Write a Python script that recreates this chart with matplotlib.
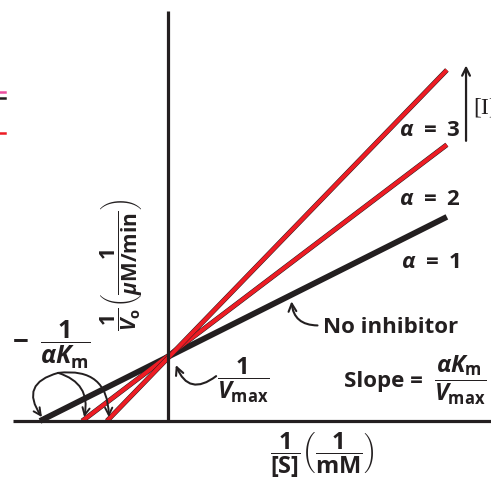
import matplotlib.pyplot as plt
from matplotlib.lines import Line2D

plt.rcParams["font.family"] = ["Open Sans", "DejaVu Sans"]
plt.rcParams["font.weight"] = "bold"
plt.rcParams["mathtext.fontset"] = "custom"
plt.rcParams["mathtext.rm"] = "Open Sans:bold"
plt.rcParams["mathtext.it"] = "Open Sans:italic:bold"
plt.rcParams["mathtext.bf"] = "Open Sans:bold"

# data (1/Vmax = 1 unit)
alphas = [1, 2, 3]
x_intercepts = [-1.97, -1.32, -0.94]   # -1/(alpha Km)
x_end = 4.29
y_end = [3.14, 4.25, 5.40]
line_colors = ["#231f20", "#ed1c24", "#ed1c24"]

BLACK = "#231f20"


def dm01():
    fig = plt.figure(figsize=(4.91, 4.89), dpi=100)
    ax = fig.add_axes([0, 0, 1, 1])
    ax.set_xlim(-2.585, 4.969)
    ax.set_ylim(-1.031, 6.492)

    # axes
    for s in ["top", "right"]:
        ax.spines[s].set_visible(False)
    ax.spines["left"].set_position(("data", 0))
    ax.spines["bottom"].set_position(("data", 0))
    ax.spines["left"].set_bounds(0, 6.31)
    ax.spines["bottom"].set_bounds(-2.385, 4.969)
    for s in ["left", "bottom"]:
        ax.spines[s].set_linewidth(2.3)
        ax.spines[s].set_color(BLACK)
        ax.spines[s].set_capstyle("butt")
    ax.set_xticks([])
    ax.set_yticks([])
    ax.patch.set_visible(False)

    # lines
    for x0, y1, c in zip(x_intercepts, y_end, line_colors):
        if c == BLACK:
            ax.plot([x0, x_end], [0, y1], color=BLACK, lw=4.2, solid_capstyle="butt")
        else:
            ax.plot([x0, x_end], [0, y1], color=BLACK, lw=3.6, solid_capstyle="butt")
            ax.plot([x0, x_end], [0, y1], color=c, lw=2.9, solid_capstyle="butt")

    # alpha labels
    for a, y in zip(alphas, [2.46, 3.43, 4.48]):
        ax.text(4.03, y, r"$\alpha\ =\ %d$" % a, fontsize=16, ha="center", va="center",
                color=BLACK)

    # [I] arrow
    ax.annotate("", xy=(4.585, 5.47), xytext=(4.585, 4.31),
                arrowprops=dict(arrowstyle="->", lw=1.6, color=BLACK,
                                shrinkA=0, shrinkB=0, mutation_scale=14))
    ax.text(4.70, 4.83, "[I]", fontsize=17, ha="left", va="center",
            family="Liberation Serif", fontweight="normal", color=BLACK)

    # No inhibitor
    ax.text(3.42, 1.45, "No inhibitor", fontsize=16, ha="center", va="center", color=BLACK)
    ax.annotate("", xy=(1.90, 1.84), xytext=(2.30, 1.47),
                arrowprops=dict(arrowstyle="->", lw=1.5, color=BLACK,
                                connectionstyle="arc3,rad=-0.45",
                                shrinkA=0, shrinkB=0, mutation_scale=14))

    # 1/Vmax
    ax.text(1.16, 0.64, r"$\dfrac{1}{V_{\mathrm{max}}}$", fontsize=17,
            ha="center", va="center", color=BLACK)
    ax.annotate("", xy=(0.12, 0.86), xytext=(0.74, 0.69),
                arrowprops=dict(arrowstyle="->", lw=1.5, color=BLACK,
                                connectionstyle="arc3,rad=-0.65",
                                shrinkA=0, shrinkB=0, mutation_scale=14))

    # slope
    ax.text(3.32, 0.63, "Slope =", fontsize=16, ha="center", va="center", color=BLACK)
    ax.text(4.50, 0.64, r"$\dfrac{\alpha K_{\mathrm{m}}}{V_{\mathrm{max}}}$", fontsize=17,
            ha="center", va="center", color=BLACK)

    # -1/(alpha Km)
    ax.text(-2.27, 1.24, "\u2212", fontsize=20, ha="center", va="center", color=BLACK)
    ax.text(-1.58, 1.18, r"$\dfrac{1}{\alpha K_{\mathrm{m}}}$", fontsize=18,
            ha="center", va="center", color=BLACK)
    start = (-1.69, 0.74)
    for x0, rad in zip(x_intercepts, [0.7, -0.45, -0.55]):
        ax.annotate("", xy=(x0 + 0.03, 0.06), xytext=start,
                    arrowprops=dict(arrowstyle="->", lw=1.4, color=BLACK,
                                    connectionstyle="arc3,rad=%s" % rad,
                                    shrinkA=0, shrinkB=0, mutation_scale=13))

    # axis labels
    ax.text(-0.71, 2.42, r"$\dfrac{1}{V_{\mathrm{o}}}\left(\dfrac{1}{\mu\mathrm{M/min}}\right)$",
            fontsize=15, rotation=90, ha="center", va="center", color=BLACK)
    ax.text(2.37, -0.51, r"$\dfrac{1}{[\mathrm{S}]}\left(\dfrac{1}{\mathrm{mM}}\right)$",
            fontsize=17, ha="center", va="center", color=BLACK)

    # clipped legend remnants at the left edge
    for y, c in zip([93, 99, 134], ["#ec4fa0", BLACK, "#ed1c24"]):
        fig.add_artist(Line2D([0, 5 / 491], [1 - y / 489] * 2, color=c, lw=1.8))

    fig.savefig("out.png", dpi=100)


if __name__ == "__main__":
    dm01()
